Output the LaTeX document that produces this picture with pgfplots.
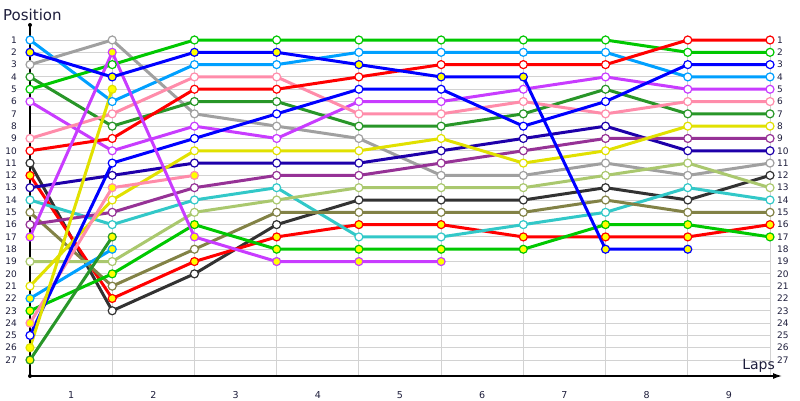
\documentclass[border=0pt]{standalone}
\usepackage{fontspec}
\setmainfont{DejaVu Sans}
\usepackage{pgfplots}
\pgfplotsset{compat=1.18}
\usetikzlibrary{arrows.meta}

\definecolor{lb}{RGB}{0,160,255}
\definecolor{bl}{RGB}{0,0,255}
\definecolor{gy}{RGB}{160,160,160}
\definecolor{dg}{RGB}{40,150,40}
\definecolor{gn}{RGB}{0,200,0}
\definecolor{vi}{RGB}{200,60,255}
\definecolor{pk}{RGB}{255,140,170}
\definecolor{rd}{RGB}{255,0,0}
\definecolor{bk}{RGB}{50,50,50}
\definecolor{nv}{RGB}{30,0,170}
\definecolor{cy}{RGB}{50,200,200}
\definecolor{ol}{RGB}{130,130,70}
\definecolor{dp}{RGB}{150,50,150}
\definecolor{lg}{RGB}{170,200,110}
\definecolor{ye}{RGB}{225,225,0}
\definecolor{myel}{RGB}{255,255,0}
\definecolor{gridc}{RGB}{210,210,210}
\definecolor{txt}{RGB}{30,30,60}

\tikzset{
  drv/.style={line width=3pt, mark=*, mark size=4pt,
    mark options={line width=1.2pt, fill=white, solid}},
  drvf/.style={line width=3pt, mark=*, mark size=4pt,
    mark options={line width=1.2pt, fill=myel, solid}},
}

\begin{document}
\begin{tikzpicture}
\begin{axis}[
  scale only axis,
  width=740pt, height=320pt,
  xmin=0, xmax=9, ymin=1, ymax=27,
  y dir=reverse,
  hide axis,
  clip=false,
]
% grid and labels
\pgfplotsinvokeforeach{1,...,27}{
  \draw[gridc, line width=1pt] (axis cs:0,#1) -- (axis cs:9,#1);
  \node[anchor=east, text=txt, font=\fontsize{9}{10}\selectfont, inner sep=0pt] at ([xshift=-13pt]axis cs:0,#1) {#1};
  \node[anchor=west, text=txt, font=\fontsize{9}{10}\selectfont, inner sep=0pt] at ([xshift=7pt]axis cs:9,#1) {#1};
}
\pgfplotsinvokeforeach{1,...,9}{
  \draw[gridc, line width=1pt] (axis cs:#1,0.6) -- (axis cs:#1,28.3);
  \node[text=txt, font=\fontsize{9.5}{10}\selectfont, inner sep=0pt] at ([xshift=-41.1pt, yshift=-19pt]axis cs:#1,28.3) {#1};
}
\coordinate (p1) at (axis cs:0,1);

\addplot[drv, lb] coordinates {(0,1)(1,6)(2,3)(3,3)(4,2)(5,2)(6,2)(7,2)(8,4)(9,4)};
\addplot[drv, gy] coordinates {(0,3)(1,1)(2,7)(3,8)(4,9)(5,12)(6,12)(7,11)(8,12)(9,11)};
\addplot[drv, dg] coordinates {(0,4)(1,8)(2,6)(3,6)(4,8)(5,8)(6,7)(7,5)(8,7)(9,7)};
\addplot[drv, gn] coordinates {(0,5)(1,3)(2,1)(3,1)(4,1)(5,1)(6,1)(7,1)(8,2)(9,2)};
\addplot[drv, vi] coordinates {(0,6)(1,10)(2,8)(3,9)(4,6)(5,6)(6,5)(7,4)(8,5)(9,5)};
\addplot[drv, pk] coordinates {(0,9)(1,7)(2,4)(3,4)(4,7)(5,7)(6,6)(7,7)(8,6)(9,6)};
\addplot[drv, rd] coordinates {(0,10)(1,9)(2,5)(3,5)(4,4)(5,3)(6,3)(7,3)(8,1)(9,1)};
\addplot[drv, bk] coordinates {(0,11)(1,23)(2,20)(3,16)(4,14)(5,14)(6,14)(7,13)(8,14)(9,12)};
\addplot[drvf, rd] coordinates {(0,12)(1,22)(2,19)(3,17)(4,16)(5,16)(6,17)(7,17)(8,17)(9,16)};
\addplot[drv, nv] coordinates {(0,13)(1,12)(2,11)(3,11)(4,11)(5,10)(6,9)(7,8)(8,10)(9,10)};
\addplot[drv, cy] coordinates {(0,14)(1,16)(2,14)(3,13)(4,17)(5,17)(6,16)(7,15)(8,13)(9,14)};
\addplot[drv, ol] coordinates {(0,15)(1,21)(2,18)(3,15)(4,15)(5,15)(6,15)(7,14)(8,15)(9,15)};
\addplot[drv, dp] coordinates {(0,16)(1,15)(2,13)(3,12)(4,12)(5,11)(6,10)(7,9)(8,9)(9,9)};
\addplot[drv, lg] coordinates {(0,19)(1,19)(2,15)(3,14)(4,13)(5,13)(6,13)(7,12)(8,11)(9,13)};
\addplot[drv, ye] coordinates {(0,21)(1,14)(2,10)(3,10)(4,10)(5,9)(6,11)(7,10)(8,8)(9,8)};
\addplot[drvf, lb] coordinates {(0,22)(1,18)};
\addplot[drvf, gn] coordinates {(0,23)(1,20)(2,16)(3,18)(4,18)(5,18)(6,18)(7,16)(8,16)(9,17)};
\addplot[drvf, pk] coordinates {(0,24)(1,13)(2,12)};
\addplot[drv, bl] coordinates {(0,25)(1,11)(2,9)(3,7)(4,5)(5,5)(6,8)(7,6)(8,3)(9,3)};
\addplot[drvf, ye] coordinates {(0,26)(1,5)};
\addplot[drvf, dg] coordinates {(0,27)(1,17)};
\addplot[drvf, vi] coordinates {(0,17)(1,2)(2,17)(3,19)(4,19)(5,19)};
\addplot[drvf, bl] coordinates {(0,2)(1,4)(2,2)(3,2)(4,3)(5,4)(6,4)(7,18)(8,18)};

% axes
\draw[black, line width=1.3pt] (axis cs:0,28.3) -- (axis cs:0,-0.22);
\fill[black] (axis cs:0,-0.22) circle (2pt);
\fill[black] (axis cs:0,28.3) circle (2pt);
\draw[black, line width=1.3pt, -{Latex[length=9pt,width=6pt]}] (axis cs:0,28.3) -- ([xshift=12pt]axis cs:9,28.3);
\end{axis}
\node[anchor=base west, text=txt, font=\fontsize{15}{16}\selectfont, inner sep=0pt] at ([shift={(-27pt,19pt)}]p1) {Position};
\node[anchor=base east, text=txt, font=\fontsize{14}{15}\selectfont, inner sep=0pt] at ([shift={(745pt,-329pt)}]p1) {Laps};
\pgfresetboundingbox
\path ([shift={(-30pt,-360pt)}]p1) rectangle ([shift={(770pt,40pt)}]p1);
\end{tikzpicture}
\end{document}
